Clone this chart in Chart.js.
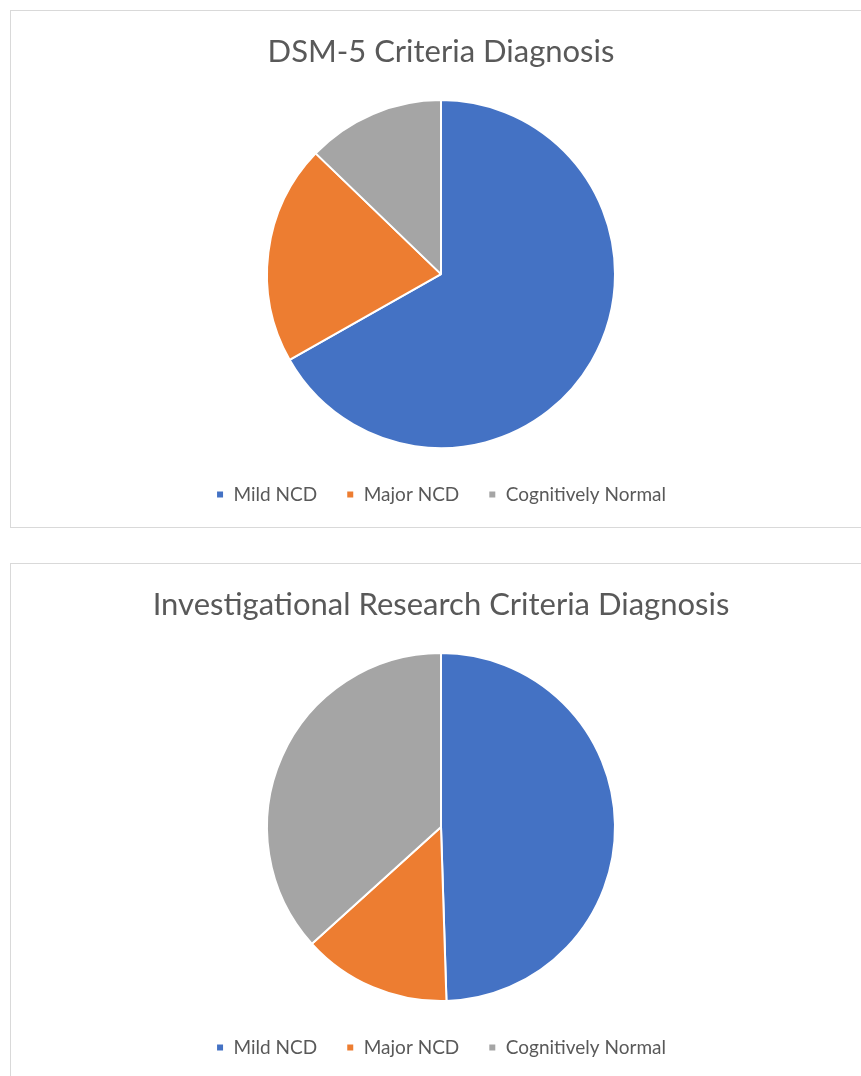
<!DOCTYPE html>
<html>
<head>
<meta charset="utf-8">
<script src="https://cdn.jsdelivr.net/npm/chart.js@4/dist/chart.umd.min.js"></script>
<style>
  html, body { margin: 0; padding: 0; background: #fff; overflow: hidden; }
  .chart-box {
    position: absolute;
    left: 10px;
    width: 860px;
    height: 516px;
    border: 1px solid #d9d9d9;
    background: #fff;
  }
  #dsm-box { top: 10px; }
  #research-box { top: 563px; height: 540px; }
  canvas { display: block; }
</style>
</head>
<body>
<div class="chart-box" id="dsm-box"><canvas id="dsm-chart" width="860" height="516"></canvas></div>
<div class="chart-box" id="research-box"><canvas id="research-chart" width="860" height="516"></canvas></div>

<script>
const categories = ["Mild NCD", "Major NCD", "Cognitively Normal"];
const dsmValues = [66.8, 20.4, 12.8];
const researchValues = [49.5, 13.8, 36.7];
const sliceColors = ["#4472C4", "#ED7D31", "#A5A5A5"];

addPieChart("dsm-chart", "DSM-5 Criteria Diagnosis", dsmValues);
addPieChart("research-chart", "Investigational Research Criteria Diagnosis", researchValues);

function addPieChart(id, titleText, values) {
  let ctx = document.getElementById(id);

  return new Chart(ctx, {
    type: 'pie',
    data: {
      labels: categories,
      datasets: [
        {
          data: values,
          backgroundColor: sliceColors,
          borderColor: "#ffffff",
          borderWidth: 2
        }
      ]
    },
    options: {
      responsive: false,
      animation: false,
      radius: 174,
      layout: { padding: { bottom: 13 } },
      plugins: {
        title: {
          display: true,
          text: titleText,
          color: "#595959",
          font: { family: "Lato", size: 31, weight: 'normal' },
          padding: { top: 22, bottom: 22 }
        },
        legend: {
          position: 'bottom',
          labels: {
            color: "#595959",
            font: { family: "Lato", size: 19 },
            boxWidth: 8,
            boxHeight: 8,
            padding: 29
          }
        },
        tooltip: { enabled: false }
      }
    }
  });
}
</script>
</body>
</html>
